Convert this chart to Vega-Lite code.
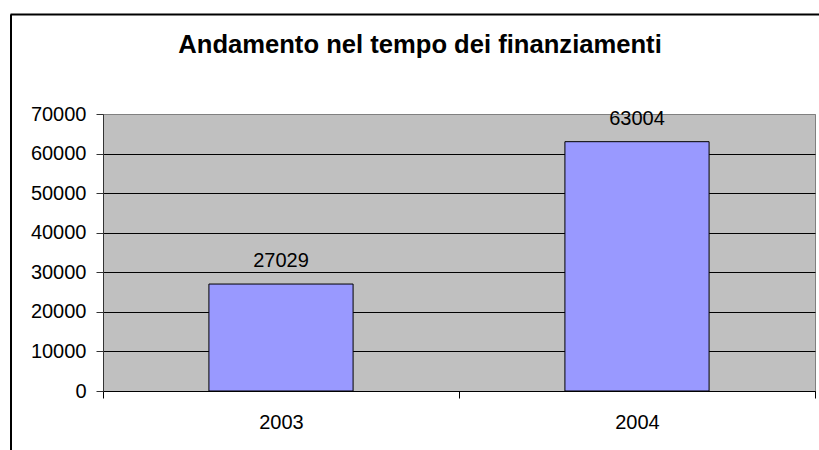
{
  "$schema": "https://vega.github.io/schema/vega-lite/v6.json",
  "width": 712,
  "height": 277,
  "autosize": {"type": "none"},
  "padding": {"left": 103, "top": 114, "right": 4, "bottom": 59},
  "background": "white",
  "title": {
    "text": "Andamento nel tempo dei finanziamenti",
    "font": "Liberation Sans",
    "fontSize": 25.6,
    "fontWeight": "bold",
    "color": "black",
    "anchor": "middle",
    "frame": "group",
    "baseline": "alphabetic",
    "offset": -65,
    "dx": -39
  },
  "data": {"values": [
    {"anno": "2003", "valore": 27029},
    {"anno": "2004", "valore": 63004}
  ]},
  "layer": [
    {
      "encoding": {
        "x": {
          "field": "anno", "type": "nominal",
          "scale": {"paddingInner": 0, "paddingOuter": 0},
          "axis": {
            "title": null, "labelAngle": 0, "labelFont": "Liberation Sans", "labelFontSize": 20,
            "labelColor": "black", "domainColor": "black", "domainWidth": 1,
            "tickColor": "black", "tickSize": 7, "tickBand": "extent", "labelPadding": 14,
            "grid": false
          }
        },
        "y": {
          "field": "valore", "type": "quantitative",
          "scale": {"domain": [0, 70000], "nice": false},
          "axis": {
            "title": null, "values": [0, 10000, 20000, 30000, 40000, 50000, 60000, 70000],
            "labelOverlap": false, "labelBound": false,
            "format": "d", "labelFont": "Liberation Sans", "labelFontSize": 20, "labelColor": "black",
            "domainColor": "#333333", "tickColor": "#333333", "tickSize": 7, "labelPadding": 10,
            "grid": true,
            "gridColor": {"condition": {"test": "datum.value == 70000", "value": "#808080"}, "value": "black"},
            "gridWidth": 1, "gridOpacity": 1
          }
        }
      },
      "layer": [
        {
          "mark": {"type": "bar", "color": "#9999ff", "stroke": "black", "strokeWidth": 1, "width": {"band": 0.405}}
        },
        {
          "mark": {"type": "text", "font": "Liberation Sans", "fontSize": 20, "color": "black", "baseline": "alphabetic", "dy": -17},
          "encoding": {
            "text": {"field": "valore", "type": "quantitative", "format": "d"}
          }
        }
      ]
    },
    {
      "mark": {"type": "point", "opacity": 0},
      "encoding": {
        "x": {
          "datum": 0, "type": "quantitative",
          "scale": {"domain": [0, 1], "range": [-93, 800]},
          "axis": {"orient": "top", "offset": 100, "domainColor": "black", "domainWidth": 2, "ticks": false, "labels": false, "grid": false, "title": null}
        },
        "y": {
          "datum": 0, "type": "quantitative",
          "scale": {"domain": [0, 1], "range": [400, -100]},
          "axis": {"orient": "left", "offset": 92.5, "domainColor": "black", "domainWidth": 2, "ticks": false, "labels": false, "grid": false, "title": null}
        }
      }
    }
  ],
  "resolve": {
    "scale": {"x": "independent", "y": "independent"},
    "axis": {"x": "independent", "y": "independent"}
  },
  "config": {
    "view": {"fill": "#c0c0c0", "stroke": "#808080", "strokeWidth": 1}
  }
}
